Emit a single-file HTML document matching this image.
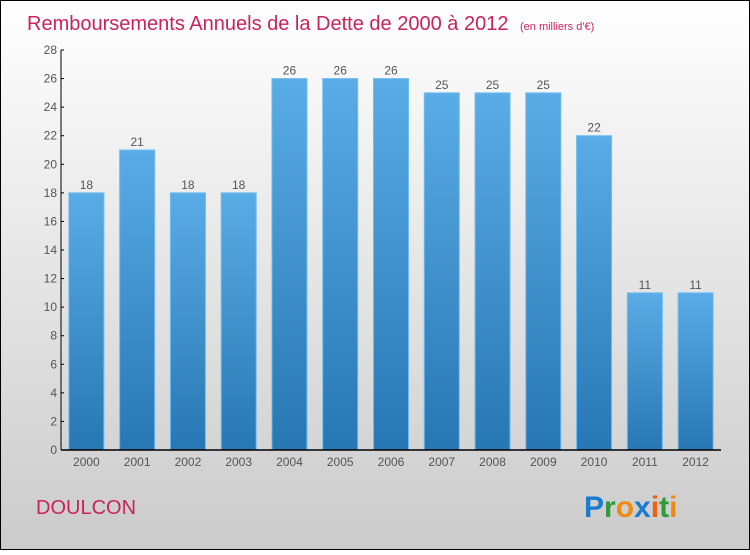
<!DOCTYPE html>
<html><head><meta charset="utf-8"><style>
html,body{margin:0;padding:0;}
body{width:750px;height:550px;overflow:hidden;font-family:"Liberation Sans",sans-serif;}
</style></head><body>
<svg width="750" height="550" xmlns="http://www.w3.org/2000/svg">
<defs>
<linearGradient id="bg" x1="0" y1="0" x2="0" y2="1"><stop offset="0" stop-color="#ffffff"/><stop offset="1" stop-color="#cbcbcb"/></linearGradient>
<linearGradient id="bar" x1="0" y1="0" x2="0" y2="1"><stop offset="0" stop-color="#5aace6"/><stop offset="1" stop-color="#2677b3"/></linearGradient>
</defs>
<rect x="0.5" y="0.5" width="749" height="549" fill="url(#bg)" stroke="#000"/>
<text x="27" y="30" font-size="20" fill="#c8245a">Remboursements Annuels de la Dette de 2000 à 2012 <tspan font-size="11" dx="6">(en milliers d'€)</tspan></text>
<g id="yaxis"></g>
<g id="bars"></g>
<g id="xaxis"></g>
<text x="36" y="514" font-size="20" fill="#c8245a">DOULCON</text>
<text x="584" y="517" font-size="30" font-weight="bold" font-family="Liberation Sans, sans-serif"><tspan fill="#1a7bd0">P</tspan><tspan fill="#2e9a3a">r</tspan><tspan fill="#f08a10">o</tspan><tspan fill="#1a7bd0">x</tspan><tspan fill="#f06010">i</tspan><tspan fill="#2e9a3a">t</tspan><tspan fill="#f08a10">i</tspan></text>
</svg>
<script>
const years=["2000","2001","2002","2003","2004","2005","2006","2007","2008","2009","2010","2011","2012"];
const values=[18,21,18,18,26,26,26,25,25,25,22,11,11];
const yTicks=[0,2,4,6,8,10,12,14,16,18,20,22,24,26,28];
const NS="http://www.w3.org/2000/svg";
const x0=61,x1=721,yBase=450,yTop=50,yMax=28;
const y=v=>yBase-(v/yMax)*(yBase-yTop);
const step=(x1-x0)/years.length;
const xc=i=>x0+step*(i+0.5);
function mk(t,a,p){const e=document.createElementNS(NS,t);for(const k in a)e.setAttribute(k,a[k]);p.appendChild(e);return e;}
const ya=document.getElementById('yaxis'),bg=document.getElementById('bars'),xa=document.getElementById('xaxis');
mk('line',{x1:x0,y1:yTop,x2:x0,y2:yBase,stroke:'#000','stroke-width':1},ya);
yTicks.forEach(t=>{
 mk('line',{x1:x0,y1:y(t),x2:x0+3,y2:y(t),stroke:'#000'},ya);
 const tx=mk('text',{x:x0-4,y:y(t)+4,'font-size':12,fill:'#555','text-anchor':'end'},ya);
 tx.textContent=t;
 
 
});
const bw=35;
values.forEach((v,i)=>{
 const r=mk('rect',{x:xc(i)-bw/2,y:y(v),width:bw,height:yBase-y(v),fill:'url(#bar)',stroke:'#6fbcf0','stroke-width':1},bg);
 
 
 const l=mk('text',{x:xc(i),y:y(v)-4,'font-size':12,fill:'#555','text-anchor':'middle'},bg);
 l.textContent=v;
 
 
 const xl=mk('text',{x:xc(i),y:466,'font-size':12,fill:'#555','text-anchor':'middle'},xa);
 xl.textContent=years[i];
 
 
});
mk('line',{x1:x0,y1:yBase,x2:x1,y2:yBase,stroke:'#000','stroke-width':1.5},xa);
</script>
</body></html>
